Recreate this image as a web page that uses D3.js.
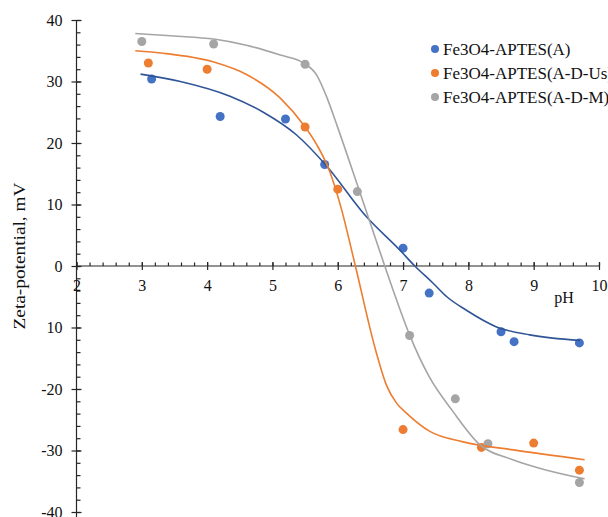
<!DOCTYPE html>
<html><head><meta charset="utf-8">
<script src="https://cdn.jsdelivr.net/npm/d3@7"></script>
<style>html,body{margin:0;padding:0;background:#fff;overflow:hidden}</style>
</head><body><svg id="c" width="608" height="517"></svg>
<script>
// ---- data ----
const seriesNames = ["Fe3O4-APTES(A)", "Fe3O4-APTES(A-D-Us)", "Fe3O4-APTES(A-D-M)"];
const pointColors = ["#4472C4", "#ED7D31", "#A5A5A5"];
const lineColors  = ["#2F5597", "#ED7D31", "#A5A5A5"];

const phA   = [3.15, 4.2, 5.2, 5.8, 7.0, 7.4, 8.5, 8.7, 9.7];
const zetaA = [30.4, 24.3, 23.9, 16.5, 2.9, -4.4, -10.7, -12.3, -12.5];
const phUs   = [3.1, 4.0, 5.5, 6.0, 7.0, 8.2, 9.0, 9.7];
const zetaUs = [33.0, 32.0, 22.6, 12.5, -26.6, -29.5, -28.8, -33.2];
const phM   = [3.0, 4.1, 5.5, 6.3, 7.1, 7.8, 8.3, 9.7];
const zetaM = [36.5, 36.1, 32.8, 12.1, -11.3, -21.6, -28.9, -35.2];

// trend lines
const fitPhA   = [2.98, 3.59, 4.35, 4.86, 5.37, 5.81, 6.44, 6.95, 7.18, 7.46, 7.67, 7.97, 8.43, 8.94, 9.71];
const fitZetaA = [31.2, 30.0, 27.6, 25.0, 21.3, 16.5, 8.0, 2.6, 0, -2.8, -5.0, -7.2, -9.9, -11.2, -12.1];
const fitPhUs   = [2.9, 3.33, 4.09, 4.61, 5.12, 5.48, 5.68, 5.88, 6.04, 6.27, 6.57, 6.75, 6.9, 7.06, 7.41, 7.92, 8.69, 9.78];
const fitZetaUs = [35.0, 34.6, 33.2, 31.1, 27.3, 22.9, 19.7, 15.3, 9.9, 0, -13.3, -19.5, -22.3, -24.0, -26.9, -28.6, -29.9, -31.5];
const fitPhM   = [2.9, 3.5, 4.1, 4.6, 5.12, 5.48, 5.68, 5.83, 6.0, 6.3, 6.72, 6.9, 7.1, 7.4, 7.76, 8.18, 8.68, 9.2, 9.78];
const fitZetaM = [37.8, 37.4, 36.9, 35.9, 34.3, 33.0, 31.0, 27.5, 22.5, 13.2, 0, -5.5, -11.2, -18.0, -23.6, -29.1, -31.5, -33.2, -34.6];

const xTicks = [2, 3, 4, 5, 6, 7, 8, 9, 10];
const yTicks = [40, 30, 20, 10, 0, -10, -20, -30, -40];
const yTickLabels = ["40", "30", "20", "10", "0", "10", "-20", "-30", "-40"];
const xMinor = d3.range(2, 10.001, 0.2);
const yMinor = d3.range(-40, 40.001, 2);

const xLabel = "pH";
const yLabel = "Zeta-potential, mV";

// ---- drawing ----
const svg = d3.select("#c");
svg.append("rect").attr("width", 608).attr("height", 517).attr("fill", "#fff");
const FONT = "'Liberation Serif','Times New Roman',serif";
const AX = "#262626";

const x = d3.scaleLinear().domain([2, 10]).range([76.5, 599]);
const y = d3.scaleLinear().domain([-40, 40]).range([512, 20]);

function styleAxis(g) {
  g.select(".domain").remove();
  g.selectAll("line").attr("stroke", AX).attr("stroke-width", 1.2);
  g.selectAll("text").attr("font-family", FONT).attr("font-size", 16).attr("fill", "#111");
}

// y axis
const yAxisG = svg.append("g").attr("transform", `translate(${x(2)},0)`);
yAxisG.append("line").attr("y1", y(40)).attr("y2", 517).attr("stroke", AX).attr("stroke-width", 1.2);
yAxisG.append("g").call(d3.axisRight(y).tickValues(yMinor).tickSize(4).tickFormat("")).call(styleAxis);
yAxisG.append("g").call(d3.axisRight(y).tickValues(yTicks).tickSize(5).tickFormat("")).call(styleAxis);
yAxisG.append("g").call(d3.axisLeft(y).tickValues(yTicks).tickSize(5).tickPadding(9)
  .tickFormat((d, i) => yTickLabels[i])).call(styleAxis);

// x axis at y = 0
const xAxisG = svg.append("g").attr("transform", `translate(0,${y(0)})`);
xAxisG.append("line").attr("x1", x(2)).attr("x2", x(10)).attr("stroke", AX).attr("stroke-width", 1.2);
xAxisG.append("g").call(d3.axisTop(x).tickValues(xMinor).tickSize(3.5).tickFormat("")).call(styleAxis);
xAxisG.append("g").call(d3.axisTop(x).tickValues(xTicks).tickSize(4).tickFormat("")).call(styleAxis);
xAxisG.append("g").call(d3.axisBottom(x).tickValues(xTicks).tickSize(4).tickPadding(10)
  .tickFormat(d3.format("d"))).call(styleAxis);

// axis titles
svg.append("text").attr("x", 564).attr("y", 303).attr("text-anchor", "middle")
  .attr("font-family", FONT).attr("font-size", 16).attr("fill", "#111").text(xLabel);
svg.append("text").attr("transform", "translate(25,256) rotate(-90)").attr("text-anchor", "middle")
  .attr("font-family", FONT).attr("font-size", 16).attr("fill", "#111")
  .attr("textLength", 147).attr("lengthAdjust", "spacingAndGlyphs").text(yLabel);

// series
const pointsData = [[phA, zetaA], [phUs, zetaUs], [phM, zetaM]];
const fitData = [[fitPhA, fitZetaA], [fitPhUs, fitZetaUs], [fitPhM, fitZetaM]];
const line = d3.line().x(d => x(d[0])).y(d => y(d[1])).curve(d3.curveMonotoneX);

pointsData.forEach((s, i) => {
  const pts = s[0].map((v, k) => [v, s[1][k]]);
  svg.append("g").selectAll("circle").data(pts).join("circle")
    .attr("cx", d => x(d[0])).attr("cy", d => y(d[1])).attr("r", 4.5)
    .attr("fill", pointColors[i]);
});
fitData.forEach((s, i) => {
  const pts = s[0].map((v, k) => [v, s[1][k]]);
  svg.append("path").datum(pts).attr("d", line).attr("fill", "none")
    .attr("stroke", lineColors[i]).attr("stroke-width", 1.6);
});

// legend
const leg = svg.append("g");
seriesNames.forEach((name, i) => {
  const yy = 49 + i * 24;
  leg.append("circle").attr("cx", 435).attr("cy", yy).attr("r", 4).attr("fill", pointColors[i]);
  leg.append("text").attr("x", 443).attr("y", yy + 6).attr("font-family", FONT)
    .attr("font-size", 17).attr("fill", "#111").text(name);
});
</script></body></html>
